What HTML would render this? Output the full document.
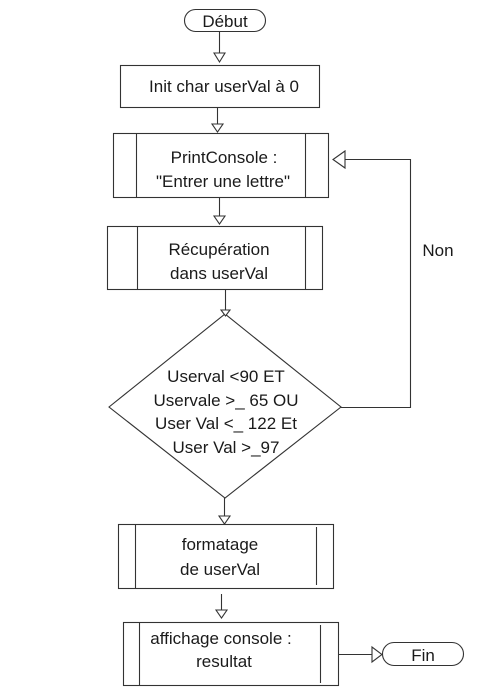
<!DOCTYPE html>
<html><head><meta charset="utf-8"><style>
html,body{margin:0;padding:0;background:#fff;}
svg text{font-family:"Liberation Sans",sans-serif;font-size:17px;fill:#1a1a1a;}
</style></head><body>
<svg width="486" height="687" viewBox="0 0 486 687" xmlns="http://www.w3.org/2000/svg">
<g fill="none" stroke="#333" stroke-width="1.1">
<rect x="184.5" y="9.5" width="81" height="22" rx="11"/>
<line x1="219.5" y1="32" x2="219.5" y2="57"/>
<polygon points="214,53 225,53 219.5,62" fill="#fff"/>
<rect x="120.5" y="65.5" width="199" height="42"/>
<line x1="217.5" y1="108" x2="217.5" y2="127"/>
<polygon points="212,124 223,124 217.5,132" fill="#fff"/>
<rect x="113.5" y="133.5" width="215" height="64"/>
<line x1="136.5" y1="133" x2="136.5" y2="197"/>
<line x1="305.5" y1="133" x2="305.5" y2="197"/>
<line x1="219.5" y1="198" x2="219.5" y2="218"/>
<polygon points="214,216 225,216 219.5,224" fill="#fff"/>
<rect x="107.5" y="226.5" width="215" height="63"/>
<line x1="137.5" y1="226" x2="137.5" y2="289"/>
<line x1="305.5" y1="226" x2="305.5" y2="289"/>
<line x1="225.5" y1="290" x2="225.5" y2="312"/>
<polygon points="109,407 225,314 341,407 225,498" fill="#fff"/>
<polygon points="221,310 230,310 225.5,316" fill="#fff"/>
<polyline points="341,407.5 410.5,407.5 410.5,159.5 345,159.5"/>
<polygon points="345,151 345,168 333,159.5" fill="#fff"/>
<line x1="224.5" y1="498" x2="224.5" y2="518"/>
<polygon points="219,516 230,516 224.5,524" fill="#fff"/>
<rect x="118.5" y="524.5" width="215" height="64"/>
<line x1="135.5" y1="524" x2="135.5" y2="588"/>
<line x1="316.5" y1="527" x2="316.5" y2="585"/>
<line x1="221.5" y1="594" x2="221.5" y2="612"/>
<polygon points="216,610 227,610 221.5,618" fill="#fff"/>
<rect x="123.5" y="622.5" width="215" height="63"/>
<line x1="139.5" y1="622" x2="139.5" y2="685"/>
<line x1="320.5" y1="625" x2="320.5" y2="683"/>
<line x1="338" y1="654.5" x2="372" y2="654.5"/>
<polygon points="372,647 372,662 382,654.5" fill="#fff"/>
<rect x="382.5" y="642.5" width="81" height="23" rx="11.5"/>
</g>
<g text-anchor="middle">
<text x="225" y="27">Début</text>
<text x="224" y="92">Init char userVal à 0</text>
<text x="224" y="163">PrintConsole :</text>
<text x="223" y="187">"Entrer une lettre"</text>
<text x="219" y="255">Récupération</text>
<text x="219" y="279">dans userVal</text>
<text x="226" y="382">Userval &lt;90 ET</text>
<text x="226" y="406">Uservale &gt;_ 65 OU</text>
<text x="226" y="429">User Val &lt;_ 122 Et</text>
<text x="226" y="453">User Val &gt;_97</text>
<text x="220" y="550">formatage</text>
<text x="220" y="575">de userVal</text>
<text x="221" y="644">affichage console :</text>
<text x="224" y="667">resultat</text>
<text x="423" y="661">Fin</text>
<text x="438" y="256">Non</text>
</g>
</svg>
</body></html>
